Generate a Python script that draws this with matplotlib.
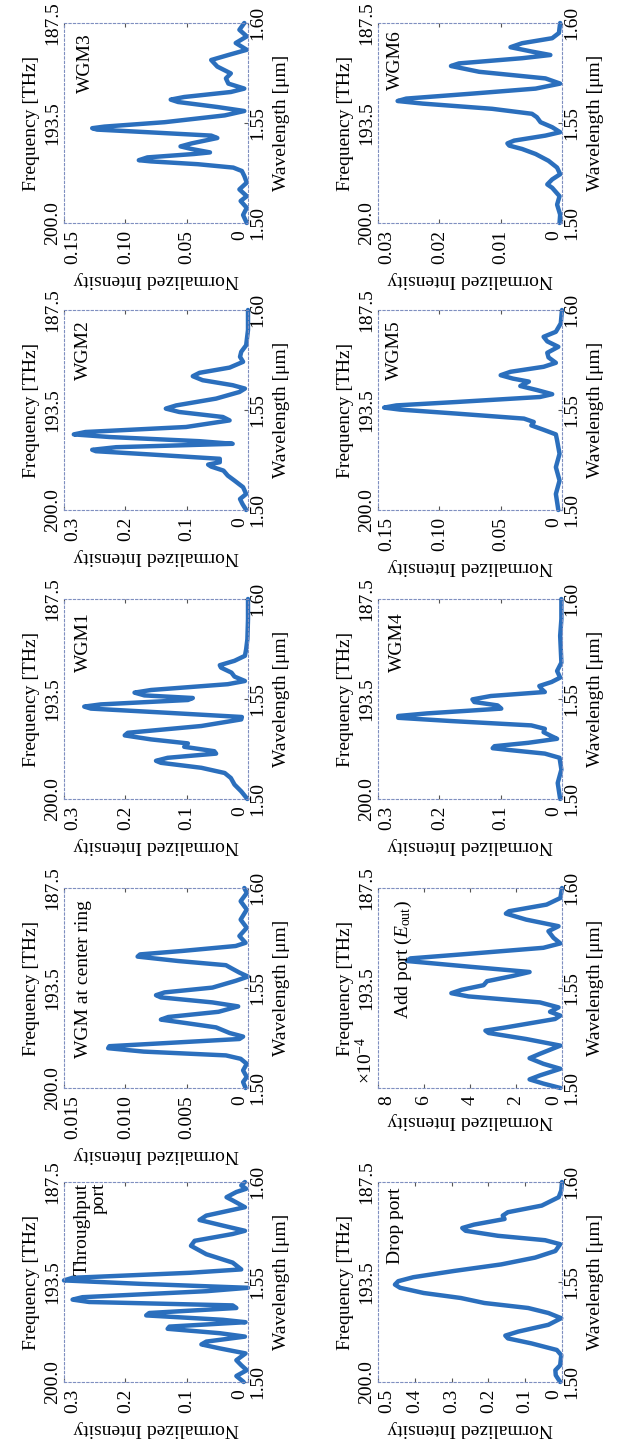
import matplotlib
matplotlib.use("Agg")
import matplotlib.pyplot as plt

plt.rcParams['font.family'] = ['Liberation Serif', 'DejaVu Serif']
plt.rcParams['mathtext.fontset'] = 'custom'
plt.rcParams['mathtext.rm'] = 'Liberation Serif'
plt.rcParams['mathtext.it'] = 'Liberation Serif:italic'
plt.rcParams['font.size'] = 14

LINE_COLOR = '#2b6fbd'
FRAME_COLOR = '#7f8fc0'

# wavelength axis (um) and matching frequency labels (THz)
wl_ticks = [1.50, 1.55, 1.60]
freq_labels = ['200.0', '193.5', '187.5']

# ---- curves: wavelength [um], normalized intensity ----
thru_wl = [1.500, 1.503, 1.5059, 1.5084, 1.5109, 1.5143, 1.5168, 1.5188, 1.5202, 1.5227,
           1.5244, 1.5266, 1.5277, 1.5299, 1.5311, 1.5333, 1.5345, 1.537, 1.5383, 1.540,
           1.5412, 1.5424, 1.5454, 1.5471, 1.5491, 1.5508, 1.5521, 1.5546, 1.5563, 1.5597,
           1.5639, 1.5681, 1.5706, 1.574, 1.5756, 1.5782, 1.581, 1.5832, 1.5874, 1.5908,
           1.5924, 1.595, 1.5966, 1.5983, 1.600]
thru_i = [0.007, 0.019, 0.002, 0.011, 0.019, 0.004, 0.046, 0.076, 0.068, 0.005,
          0.046, 0.131, 0.128, 0.004, 0.041, 0.166, 0.161, 0.019, 0.025, 0.259,
          0.286, 0.270, 0.068, 0.000, 0.177, 0.300, 0.286, 0.095, 0.011, 0.025,
          0.068, 0.093, 0.087, 0.025, 0.005, 0.041, 0.079, 0.068, 0.005, 0.025,
          0.035, 0.019, 0.003, 0.011, 0.005]

center_wl = [1.500, 1.503, 1.5055, 1.5088, 1.5121, 1.5146, 1.5163, 1.5182, 1.5199, 1.5209,
             1.5226, 1.5245, 1.5257, 1.5275, 1.5303, 1.5325, 1.5342, 1.5355, 1.5381, 1.5408,
             1.5428, 1.5453, 1.5464, 1.5478, 1.5502, 1.5536, 1.5557, 1.5577, 1.5597, 1.5614,
             1.5635, 1.5657, 1.5668, 1.5685, 1.571, 1.5726, 1.576, 1.5801, 1.5842, 1.5892,
             1.5934, 1.5975, 1.600]
center_i = [0.0002, 0.0004, 0.0001, 0.0004, 0.0001, 0.0006, 0.0018, 0.0085, 0.0114, 0.0113,
            0.0063, 0.0007, 0.0004, 0.0015, 0.0026, 0.0051, 0.0071, 0.0065, 0.0024, 0.0008,
            0.0029, 0.0071, 0.0075, 0.0068, 0.0029, 0.0010, 0.0000, 0.0007, 0.0013, 0.0018,
            0.0057, 0.0090, 0.0088, 0.0054, 0.0010, 0.0002, 0.0007, 0.0001, 0.0006, 0.0001,
            0.0006, 0.0001, 0.0003]

wgm1_wl = [1.500, 1.5038, 1.5072, 1.5105, 1.513, 1.5156, 1.5181, 1.5191, 1.5206, 1.5227,
           1.5239, 1.5261, 1.5278, 1.5298, 1.5318, 1.5331, 1.5365, 1.5398, 1.541, 1.5431,
           1.5452, 1.5462, 1.5473, 1.5495, 1.5505, 1.5518, 1.5532, 1.5545, 1.5574, 1.559,
           1.5612, 1.5632, 1.5657, 1.5669, 1.5691, 1.5716, 1.5749, 1.5799, 1.590, 1.600]
wgm1_i = [0.001, 0.011, 0.022, 0.028, 0.038, 0.076, 0.142, 0.150, 0.131, 0.052,
          0.055, 0.104, 0.098, 0.158, 0.201, 0.196, 0.076, 0.011, 0.010, 0.131,
          0.256, 0.267, 0.240, 0.098, 0.090, 0.169, 0.185, 0.158, 0.033, 0.005,
          0.022, 0.027, 0.044, 0.046, 0.022, 0.005, 0.003, 0.001, 0.000, 0.000]

wgm2_wl = [1.500, 1.503, 1.5055, 1.508, 1.5114, 1.5147, 1.5172, 1.5197, 1.5217, 1.5227,
           1.5239, 1.5256, 1.5278, 1.5294, 1.5301, 1.5314, 1.5331, 1.5344, 1.5365, 1.5378,
           1.539, 1.5415, 1.5448, 1.5465, 1.549, 1.5507, 1.5523, 1.5557, 1.559, 1.5607,
           1.5624, 1.5649, 1.5669, 1.5686, 1.5712, 1.5741, 1.5766, 1.5791, 1.5824, 1.590,
           1.600]
wgm2_i = [0.003, 0.009, 0.013, 0.003, 0.008, 0.022, 0.033, 0.040, 0.060, 0.065,
          0.046, 0.046, 0.161, 0.248, 0.254, 0.215, 0.025, 0.079, 0.226, 0.284,
          0.265, 0.101, 0.030, 0.041, 0.112, 0.134, 0.117, 0.052, 0.014, 0.005,
          0.025, 0.074, 0.090, 0.079, 0.030, 0.008, 0.013, 0.011, 0.003, 0.000,
          0.000]

wgm3_wl = [1.500, 1.504, 1.5076, 1.511, 1.5134, 1.5168, 1.5202, 1.5235, 1.526, 1.5277,
           1.5294, 1.5308, 1.5314, 1.5328, 1.5345, 1.5353, 1.537, 1.5383, 1.5398, 1.5425,
           1.5437, 1.5454, 1.5467, 1.5474, 1.5482, 1.5504, 1.5538, 1.556, 1.558, 1.5605,
           1.5617, 1.563, 1.5655, 1.5672, 1.5697, 1.5723, 1.5748, 1.5782, 1.5815, 1.584,
           1.5866, 1.590, 1.5933, 1.5966, 1.600]
wgm3_i = [0.001, 0.004, 0.001, 0.006, 0.001, 0.007, 0.001, 0.003, 0.005, 0.012,
          0.041, 0.079, 0.089, 0.082, 0.044, 0.031, 0.046, 0.055, 0.046, 0.025,
          0.030, 0.082, 0.123, 0.127, 0.117, 0.068, 0.019, 0.003, 0.025, 0.057,
          0.063, 0.052, 0.014, 0.003, 0.016, 0.018, 0.014, 0.025, 0.030, 0.016,
          0.001, 0.010, 0.001, 0.007, 0.003]

drop_wl = [1.500, 1.5034, 1.5059, 1.5084, 1.5134, 1.516, 1.5193, 1.5218, 1.5232, 1.5252,
           1.5286, 1.5319, 1.5345, 1.537, 1.5395, 1.542, 1.5445, 1.5471, 1.5487, 1.5504,
           1.5524, 1.5555, 1.5588, 1.5622, 1.5655, 1.5689, 1.5709, 1.5731, 1.5756, 1.577,
           1.5787, 1.5815, 1.5832, 1.5849, 1.5882, 1.5924, 1.5958, 1.600]
drop_i = [0.005, 0.017, 0.018, 0.005, 0.002, 0.014, 0.083, 0.147, 0.154, 0.119,
          0.037, 0.002, 0.037, 0.092, 0.211, 0.275, 0.376, 0.440, 0.454, 0.445,
          0.404, 0.294, 0.165, 0.073, 0.018, 0.005, 0.046, 0.174, 0.262, 0.271,
          0.239, 0.156, 0.161, 0.147, 0.055, 0.009, 0.002, 0.000]

# add port intensity in units of 1e-4
add_wl = [1.500, 1.5022, 1.5043, 1.5063, 1.5096, 1.5121, 1.5149, 1.5171, 1.5212, 1.5245,
          1.5275, 1.5287, 1.5303, 1.5345, 1.5362, 1.5381, 1.5403, 1.5428, 1.5458, 1.5474,
          1.5491, 1.5514, 1.5534, 1.556, 1.558, 1.5607, 1.5635, 1.5648, 1.5668, 1.5701,
          1.5723, 1.5751, 1.5784, 1.5809, 1.5842, 1.5872, 1.5884, 1.5917, 1.595, 1.600]
add_i = [0.07, 0.81, 1.41, 0.96, 0.07, 0.81, 1.41, 0.96, 0.07, 1.56,
         3.19, 3.33, 2.44, 0.30, 0.07, 0.52, 0.15, 0.96, 4.07, 4.81,
         4.37, 3.41, 3.26, 2.15, 1.41, 4.07, 6.74, 6.59, 4.37, 0.81,
         0.07, 0.37, 0.59, 0.15, 1.56, 2.44, 2.30, 0.67, 0.07, 0.00]

wgm4_wl = [1.500, 1.508, 1.5147, 1.5206, 1.5227, 1.5244, 1.5254, 1.5264, 1.5281, 1.5301,
           1.5314, 1.5334, 1.5351, 1.5368, 1.539, 1.5406, 1.5415, 1.5428, 1.5452, 1.5468,
           1.5485, 1.5498, 1.5515, 1.5535, 1.5549, 1.5565, 1.5585, 1.5607, 1.564, 1.5682,
           1.5816, 1.590, 1.600]
wgm4_i = [0.003, 0.007, 0.001, 0.004, 0.028, 0.083, 0.113, 0.110, 0.055, 0.008,
          0.017, 0.030, 0.028, 0.050, 0.182, 0.267, 0.267, 0.220, 0.099, 0.105,
          0.143, 0.146, 0.116, 0.028, 0.033, 0.037, 0.017, 0.003, 0.008, 0.001,
          0.003, 0.001, 0.001]

wgm5_wl = [1.500, 1.508, 1.5147, 1.5214, 1.5281, 1.5348, 1.5378, 1.5401, 1.5423, 1.544,
           1.5457, 1.5482, 1.5502, 1.5512, 1.5523, 1.554, 1.5565, 1.5579, 1.5599, 1.562,
           1.5642, 1.5657, 1.5674, 1.5691, 1.5716, 1.5736, 1.5763, 1.5786, 1.5816, 1.5843,
           1.5866, 1.5891, 1.5933, 1.600]
wgm5_i = [0.003, 0.005, 0.002, 0.005, 0.002, 0.004, 0.005, 0.015, 0.025, 0.023,
          0.031, 0.086, 0.132, 0.145, 0.135, 0.086, 0.018, 0.008, 0.020, 0.034,
          0.027, 0.040, 0.050, 0.042, 0.015, 0.005, 0.011, 0.012, 0.003, 0.012,
          0.015, 0.005, 0.001, 0.000]

wgm6_wl = [1.500, 1.5042, 1.5092, 1.5134, 1.5176, 1.5193, 1.5218, 1.5244, 1.5277, 1.5311,
           1.5345, 1.537, 1.5387, 1.5398, 1.5412, 1.5437, 1.5454, 1.5479, 1.5504, 1.5529,
           1.5546, 1.5571, 1.5597, 1.561, 1.5622, 1.5647, 1.5672, 1.5697, 1.5723, 1.5756,
           1.5785, 1.5798, 1.5824, 1.584, 1.5857, 1.5879, 1.5899, 1.5924, 1.595, 1.600]
wgm6_i = [0.0004, 0.0003, 0.0008, 0.0004, 0.0016, 0.0024, 0.0016, 0.0003, 0.0008, 0.0022,
          0.0043, 0.0065, 0.0086, 0.0089, 0.0078, 0.0027, 0.0003, 0.0016, 0.0035, 0.0041,
          0.0049, 0.0114, 0.0227, 0.0268, 0.0254, 0.0146, 0.0043, 0.0003, 0.0027, 0.0135,
          0.0181, 0.0168, 0.0065, 0.0019, 0.0049, 0.0084, 0.0065, 0.0016, 0.0005, 0.0003]

# intensity axis ticks per panel
thru_ticks = [0, 0.1, 0.2, 0.3]
thru_tlabels = ['0', '0.1', '0.2', '0.3']
center_ticks = [0, 0.005, 0.010, 0.015]
center_tlabels = ['0', '0.005', '0.010', '0.015']
wgm_ticks_03 = [0, 0.1, 0.2, 0.3]
wgm_tlabels_03 = ['0', '0.1', '0.2', '0.3']
wgm_ticks_015 = [0, 0.05, 0.10, 0.15]
wgm_tlabels_015 = ['0', '0.05', '0.10', '0.15']
drop_ticks = [0, 0.1, 0.2, 0.3, 0.4, 0.5]
drop_tlabels = ['0', '0.1', '0.2', '0.3', '0.4', '0.5']
add_ticks = [0, 2, 4, 6, 8]
add_tlabels = ['0', '2', '4', '6', '8']
wgm6_ticks = [0, 0.01, 0.02, 0.03]
wgm6_tlabels = ['0', '0.01', '0.02', '0.03']

# (row from top, column, title, wl, intensity, ticks, tick labels, title x, title y)
panels = [
    (0, 0, 'WGM3', wgm3_wl, wgm3_i, wgm_ticks_015, wgm_tlabels_015, 0.07, 0.95),
    (1, 0, 'WGM2', wgm2_wl, wgm2_i, wgm_ticks_03, wgm_tlabels_03, 0.06, 0.95),
    (2, 0, 'WGM1', wgm1_wl, wgm1_i, wgm_ticks_03, wgm_tlabels_03, 0.06, 0.935),
    (3, 0, 'WGM at center ring', center_wl, center_i, center_ticks, center_tlabels, 0.06, 0.94),
    (4, 0, 'Throughput\nport', thru_wl, thru_i, thru_ticks, thru_tlabels, 0.05, 0.995),
    (0, 1, 'WGM6', wgm6_wl, wgm6_i, wgm6_ticks, wgm6_tlabels, 0.05, 0.965),
    (1, 1, 'WGM5', wgm5_wl, wgm5_i, wgm_ticks_015, wgm_tlabels_015, 0.045, 0.95),
    (2, 1, 'WGM4', wgm4_wl, wgm4_i, wgm_ticks_03, wgm_tlabels_03, 0.06, 0.935),
    (3, 1, 'Add port ($E_{\\rm out}$)', add_wl, add_i, add_ticks, add_tlabels, 0.08, 0.94),
    (4, 1, 'Drop port', drop_wl, drop_i, drop_ticks, drop_tlabels, 0.05, 0.975),
]

W, H = 618, 1444
col_left = [64, 378]
row_top = [23, 310, 599, 888, 1182]
ax_w, ax_h = 184, 200

fig = plt.figure(figsize=(W / 100, H / 100), dpi=100)

for row, col, title, wl, inten, ticks, tlabels, tx, ty in panels:
    rect = [col_left[col] / W, 1 - (row_top[row] + ax_h) / H, ax_w / W, ax_h / H]
    ax = fig.add_axes(rect)
    ax.plot(inten, wl, color=LINE_COLOR, lw=3.2, solid_joinstyle='round',
            solid_capstyle='round', clip_on=False)
    ax.set_xlim(ticks[-1], 0)
    ax.set_ylim(wl_ticks[0], wl_ticks[-1])

    for sp in ax.spines.values():
        sp.set_linestyle((0, (2, 2)))
        sp.set_color(FRAME_COLOR)
        sp.set_linewidth(0.8)

    # wavelength on the right
    ax.set_yticks(wl_ticks, labels=['%.2f' % v for v in wl_ticks])
    ax.tick_params(axis='y', left=False, right=True, labelleft=False, labelright=True,
                   direction='in', length=3, pad=1, color='#555555')
    for lab in ax.get_yticklabels():
        lab.set_rotation(90)
        lab.set_va('center')
    ax.yaxis.set_label_position('right')
    ax.set_ylabel('Wavelength [\u03bcm]', rotation=90, labelpad=5)

    # intensity along the bottom
    ax.set_xticks(ticks, labels=tlabels)
    ax.tick_params(axis='x', direction='in', length=3, pad=5, color='#555555', top=True)
    xlabs = ax.get_xticklabels()
    for lab in xlabs:
        lab.set_rotation(90)
    # keep the end labels clear of the corner labels
    xlabs[0].set_ha('right')
    xlabs[-1].set_ha('left')
    ax.set_xlabel('Normalized Intensity', rotation=180, labelpad=5)

    # frequency on the left
    sec = ax.secondary_yaxis('left')
    flabels = list(freq_labels)
    if title.startswith('Add'):
        flabels[0] = ''
    sec.set_yticks(wl_ticks, labels=flabels)
    sec.tick_params(direction='in', length=0, pad=2)
    for lab in sec.get_yticklabels():
        lab.set_rotation(90)
        lab.set_va('center')
    sec.spines['left'].set_visible(False)
    sec.set_ylabel('Frequency [THz]', rotation=90, labelpad=3)

    if title.startswith('Add'):
        ax.text(-0.01, 0.02, '\u00d710$^{-4}$', transform=ax.transAxes, rotation=90,
                ha='right', va='bottom')

    ax.text(tx, ty, title, transform=ax.transAxes, rotation=90, ha='left', va='top',
            multialignment='right', linespacing=1.0)

fig.savefig('out.png', dpi=100)
